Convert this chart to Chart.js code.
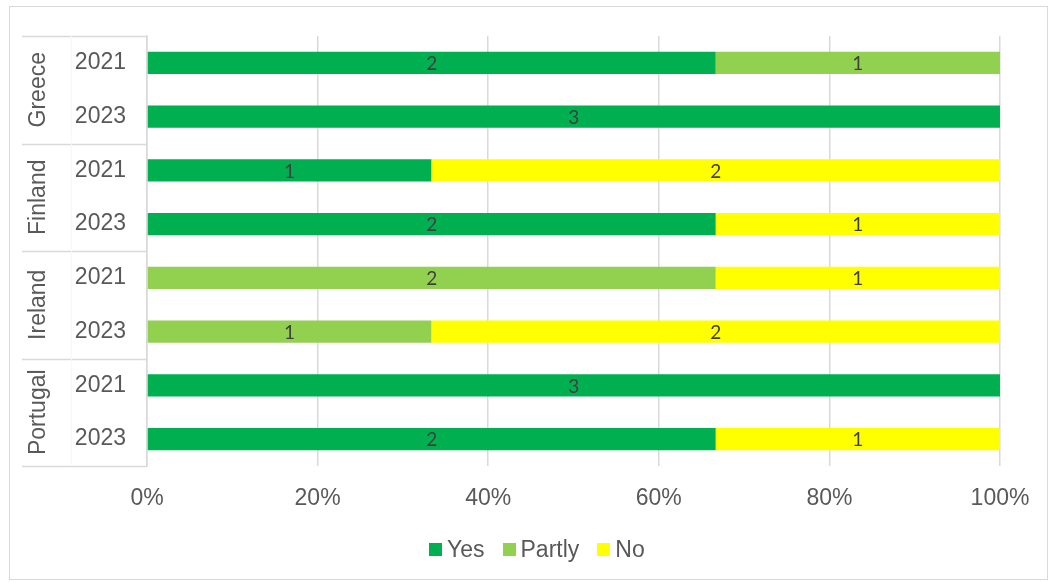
<!DOCTYPE html>
<html>
<head>
<meta charset="utf-8">
<script src="https://cdn.jsdelivr.net/npm/chart.js@4/dist/chart.umd.min.js"></script>
<style>
  html, body { margin: 0; padding: 0; background: #fff; }
  #wrap { width: 1051px; height: 583px; position: relative; }
  #legend {
    position: absolute; left: 429px; top: 535px;
    display: flex; align-items: center;
    font: 23px 'Liberation Sans', Arial, sans-serif; color: #595959;
    line-height: 28px;
  }
  #legend .item { display: flex; align-items: center; margin-right: 18px; }
  #legend .box { width: 13px; height: 13px; margin-right: 5px; }
</style>
</head>
<body>
<div id="wrap"><canvas id="myChart"></canvas><div id="legend"></div></div>
<script>
// data (counts per answer)
const countries = ["Greece", "Finland", "Ireland", "Portugal"];
const years = ["2021", "2023", "2021", "2023", "2021", "2023", "2021", "2023"];
const yesCounts    = [2, 3, 1, 2, 0, 0, 3, 2];
const partlyCounts = [1, 0, 0, 0, 2, 1, 0, 0];
const noCounts     = [0, 0, 2, 1, 1, 2, 0, 1];
const xTicks = [0, 20, 40, 60, 80, 100];

const totals = years.map((y, i) => yesCounts[i] + partlyCounts[i] + noCounts[i]);
const pct = arr => arr.map((v, i) => v / totals[i] * 100); // 100% stacked

const axisFont = "'Liberation Sans', Arial, sans-serif";
const textGray = "#595959";
const lineGray = "#d9d9d9";

// draws the data labels, the country groups on the left and the outer frame
const extras = {
    id: "extras",
    afterDatasetsDraw(chart) {
        const ctx = chart.ctx;
        ctx.save();
        ctx.font = "19px Lato, 'Liberation Sans', sans-serif";
        ctx.fillStyle = "#404040";
        ctx.textAlign = "center";
        ctx.textBaseline = "middle";
        const counts = [yesCounts, partlyCounts, noCounts];
        chart.data.datasets.forEach((ds, d) => {
            chart.getDatasetMeta(d).data.forEach((bar, i) => {
                if (!counts[d][i]) return;
                ctx.fillText(String(counts[d][i]), (bar.x + bar.base) / 2, bar.y + 1);
            });
        });
        ctx.restore();
    },
    afterDraw(chart) {
        const ctx = chart.ctx;
        const y = chart.scales.y;
        const left = 22;
        const right = chart.chartArea.left;
        ctx.save();
        ctx.strokeStyle = lineGray;
        ctx.lineWidth = 1.5;
        // group separators
        for (let g = 0; g <= countries.length; g++) {
            const py = Math.round(y.getPixelForValue(g * 2 - 0.5)) + 0.5;
            ctx.beginPath();
            ctx.moveTo(left, py);
            ctx.lineTo(right, py);
            ctx.stroke();
        }
        // very faint divider between country and year columns
        ctx.strokeStyle = "#f7f7f7";
        ctx.lineWidth = 1;
        ctx.beginPath();
        ctx.moveTo(71.5, y.getPixelForValue(-0.5));
        ctx.lineTo(71.5, y.getPixelForValue(years.length - 0.5));
        ctx.stroke();
        // country names, rotated
        ctx.font = "23px " + axisFont;
        ctx.fillStyle = textGray;
        ctx.textAlign = "center";
        ctx.textBaseline = "middle";
        countries.forEach((c, g) => {
            const cy = y.getPixelForValue(g * 2 + 0.5);
            ctx.save();
            ctx.translate(39, cy);
            ctx.rotate(-Math.PI / 2);
            ctx.fillText(c, 0, 0);
            ctx.restore();
        });
        // outer frame
        ctx.strokeStyle = lineGray;
        ctx.lineWidth = 1;
        ctx.strokeRect(9.5, 6.5, 1038, 573);
        ctx.restore();
    }
};

function makeLegend(chart) {
    const legend = document.getElementById("legend");
    chart.data.datasets.forEach(ds => {
        const item = document.createElement("div");
        item.className = "item";
        const box = document.createElement("span");
        box.className = "box";
        box.style.background = ds.backgroundColor;
        item.appendChild(box);
        item.appendChild(document.createTextNode(ds.label));
        legend.appendChild(item);
    });
}

function init() {
    const canvas = document.getElementById("myChart");
    const chart = new Chart(canvas, {
        type: "bar",
        data: {
            labels: years,
            datasets: [
                { label: "Yes", data: pct(yesCounts), backgroundColor: "#00B050" },
                { label: "Partly", data: pct(partlyCounts), backgroundColor: "#92D050" },
                { label: "No", data: pct(noCounts), backgroundColor: "#FFFF00" }
            ]
        },
        options: {
            indexAxis: "y",
            responsive: true,
            maintainAspectRatio: false,
            animation: false,
            layout: { padding: { top: 36, left: 22, right: 51, bottom: 53 } },
            datasets: { bar: { categoryPercentage: 1, barPercentage: 0.41 } },
            scales: {
                x: {
                    stacked: true,
                    min: 0,
                    max: 100,
                    afterBuildTicks: axis => { axis.ticks = xTicks.map(v => ({ value: v })); },
                    afterFit: axis => { axis.height = 64; },
                    grid: { color: lineGray, lineWidth: 1.5, drawTicks: false },
                    border: { display: false },
                    ticks: {
                        padding: 19,
                        color: textGray,
                        font: { family: axisFont, size: 23 },
                        callback: v => v + "%"
                    }
                },
                y: {
                    stacked: true,
                    afterFit: axis => { axis.width = 125; },
                    grid: { display: false, drawTicks: false },
                    border: { display: true, color: lineGray, width: 1.5 },
                    ticks: {
                        padding: 21,
                        color: textGray,
                        font: { family: axisFont, size: 23 }
                    }
                }
            },
            plugins: {
                legend: { display: false },
                tooltip: { enabled: false }
            }
        },
        plugins: [extras]
    });
    makeLegend(chart);
}

document.addEventListener("DOMContentLoaded", init);
</script>
</body>
</html>
